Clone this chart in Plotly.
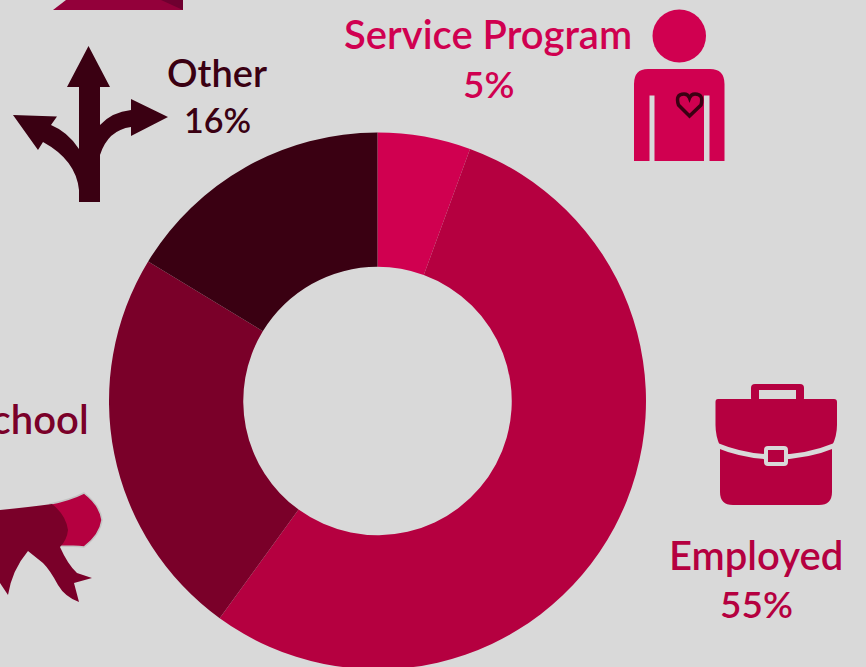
import re
import plotly.graph_objects as go

categories = ["Service Program", "Employed", "Graduate School", "Other"]
values = [5.6, 54.4, 23.7, 16.3]
percent_labels = ["5%", "55%", "24%", "16%"]
colors = ["#d00050", "#b50040", "#7a0029", "#3a0012"]
BG = "#d9d9d9"
W, H = 866, 670
FONT = "Lato"
FS = 40
FS_PCT = 37


def px(path):
    nums = iter(re.findall(r"[A-Za-z]|-?\d+\.?\d*", path))
    out, is_x = [], True
    for t in nums:
        if t.isalpha():
            out.append(t)
        elif is_x:
            out.append(f"{float(t)/W:.5f}")
            is_x = False
        else:
            out[-1] += f",{1-float(t)/H:.5f}"
            is_x = True
    return " ".join(out)


def shp(path, fill=None, line=None, width=0):
    d = dict(type="path", xref="paper", yref="paper", path=px(path), layer="above")
    if fill:
        d["fillcolor"] = fill
    else:
        d["fillcolor"] = "rgba(0,0,0,0)"
    d["line"] = dict(color=line or "rgba(0,0,0,0)", width=width)
    return d


def rrect(x0, y0, x1, y1, r):
    return (f"M{x0+r},{y0} L{x1-r},{y0} Q{x1},{y0} {x1},{y0+r} L{x1},{y1-r} Q{x1},{y1} {x1-r},{y1} "
            f"L{x0+r},{y1} Q{x0},{y1} {x0},{y1-r} L{x0},{y0+r} Q{x0},{y0} {x0+r},{y0} Z")


shapes = []
# graduation cap edge (top)
shapes.append(shp("M53,10 L66,0 L183,0 L183,10 Z", "#93003a"))
shapes.append(shp("M161,0 L183,0 L183,10 Z", "#6f0030"))
# fork arrows
shapes.append(shp("M79,202 L79,190 Q76,160 43,142 L38,150 L13,115 L57,116.5 L51,125 Q68,132 79,149 "
                  "L79,87 L67,87 L88.5,46 L110,87 L100,87 L100,125 Q112,112 131,110 L131,99 L168,117 "
                  "L131,136 L131,127 Q108,130 100,155 L100,202 Z", colors[3]))
# person
shapes.append(dict(type="circle", xref="paper", yref="paper", x0=652.5/W, x1=706/W,
                   y0=1-62.5/H, y1=1-9.5/H, fillcolor=colors[0], line=dict(width=0), layer="above"))
shapes.append(shp("M648,69 L710,69 Q724.5,69 724.5,84 L724.5,161 L709.5,161 L709.5,95.5 L704,95.5 L704,161 "
                  "L654.5,161 L654.5,95.5 L649.5,95.5 L649.5,161 L634,161 L634,84 Q634,69 648,69 Z", colors[0]))
shapes.append(shp("M689.5,116 L678.5,105 Q675,94 684,94 Q688,94 689.5,98 Q691,94 695,94 Q704,94 701,105 Z",
                  None, colors[3], 3.5))
# briefcase
shapes.append(shp(rrect(751, 384, 804, 402, 4), colors[1]))
shapes.append(shp("M759,390 L796,390 L796,399 L759,399 Z", BG))
shapes.append(shp("M718,399 L834,399 Q837,399 837,402 L837,425 Q837,436 832,446 L832,492 Q832,505 819,505 "
                  "L733,505 Q720,505 720,492 L720,446 Q715.5,436 715.5,425 L715.5,402 Q715.5,399 718,399 Z",
                  colors[1]))
shapes.append(shp("M716,445 Q745,457 776,457 Q807,457 836,445", None, BG, 5))
shapes.append(shp(rrect(766, 448, 786, 464, 2), colors[1], BG, 4))
# diploma
shapes.append(shp("M50,504 Q70,500 84,493 Q100,505 102,520 Q100,535 84,547 Q75,546 58,546 Z", colors[1], "#c4c4c4", 1.5))
shapes.append(shp("M0,510 Q30,507 52,504 Q66,515 68,530 Q67,540 60,547 Q68,565 77,573 L92,578 L74,583 L79,602 "
                  "Q65,597 58,585 Q50,570 43,563 L28,551 Q12,570 8,595 L0,583 Z", colors[2]))

anns = []


def label(text, x, y, color, anchor="center", size=FS):
    anns.append(dict(text=text, x=x/W, y=1-y/H, xref="paper", yref="paper", xanchor=anchor, yanchor="middle",
                     showarrow=False, font=dict(family=FONT, size=size, color=color, weight=600)))


label(categories[0], 488, 34, colors[0])
label(percent_labels[0], 488, 83, colors[0], size=FS_PCT)
label(categories[1], 756, 555, colors[1])
label(percent_labels[1], 756, 603, colors[1], size=FS_PCT)
label(categories[2], 91, 419, colors[2], "right")
label(categories[3], 217, 72, colors[3], size=38)
label(percent_labels[3], 217, 119, colors[3], size=34)

fig = go.Figure(go.Pie(
    labels=categories, values=values, hole=0.5, sort=False, direction="clockwise", rotation=0,
    marker=dict(colors=colors, line=dict(width=0)), textinfo="none", hoverinfo="label+percent",
    domain=dict(x=[109/W, 646/W], y=[0, 1-132/H]), showlegend=False,
))
fig.update_layout(width=W, height=H, margin=dict(l=0, r=0, t=0, b=0), paper_bgcolor=BG, plot_bgcolor=BG,
                  shapes=shapes, annotations=anns, showlegend=False)
fig.write_html("out.html", config=dict(displayModeBar=False),
               post_script="document.body.style.margin='0';document.documentElement.style.overflow='hidden';document.body.style.background='%s';" % BG)
